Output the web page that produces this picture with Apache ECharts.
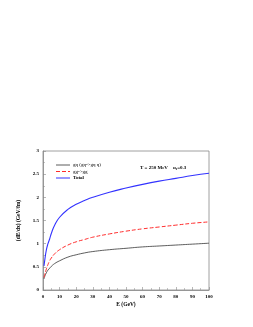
<!DOCTYPE html>
<html><head><meta charset="utf-8">
<script src="https://cdn.jsdelivr.net/npm/echarts@6/dist/echarts.min.js"></script>
<style>html,body{margin:0;padding:0;background:#fff}#c{width:253px;height:327px}</style>
</head><body><div id="c"></div>
<script>
const energies = [0.6, 1, 2, 3, 4, 5, 7, 10, 15, 20, 25, 30, 40, 50, 60, 70, 80, 90, 100];
const gqValues = [0.25, 0.29, 0.37, 0.43, 0.47, 0.51, 0.57, 0.63, 0.71, 0.76, 0.80, 0.83, 0.87, 0.90, 0.93, 0.95, 0.97, 0.99, 1.01];
const ggValues = [0.27, 0.33, 0.45, 0.55, 0.63, 0.69, 0.78, 0.87, 0.97, 1.04, 1.09, 1.14, 1.21, 1.27, 1.32, 1.36, 1.40, 1.44, 1.47];
const totalValues = [0.52, 0.63, 0.86, 1.00, 1.10, 1.22, 1.40, 1.57, 1.74, 1.85, 1.93, 2.00, 2.11, 2.20, 2.28, 2.35, 2.41, 2.47, 2.52];
const seriesNames = ['gq (gq\u0304->gq q\u0304)', 'gg->gg', 'Total'];
const xTicks = [0, 10, 20, 30, 40, 50, 60, 70, 80, 90, 100];
const yTicks = [0, 0.5, 1, 1.5, 2, 2.5, 3];

const colors = ['#333333', '#ff2a2a', '#3333ff'];
const pair = (xs, ys) => xs.map((x, i) => [x, ys[i]]);
const font = 'Liberation Serif';
const chart = echarts.init(document.getElementById('c'));
const axisCommon = {
  axisLine: {show: true, lineStyle: {color: '#888', width: 0.8}},
  axisTick: {show: true, inside: true, length: 3, lineStyle: {color: '#888', width: 0.6}},
  minorTick: {show: true, splitNumber: 2, length: 2, lineStyle: {color: '#888', width: 0.5}},
  splitLine: {show: false},
  axisLabel: {fontFamily: font, fontWeight: 'bold', fontSize: 5, color: '#000', margin: 4}
};
const legendY = [165, 171.5, 178];
const legendGraphics = [];
seriesNames.forEach((n, i) => {
  legendGraphics.push({
    type: 'line', shape: {x1: 56, y1: legendY[i], x2: 70, y2: legendY[i]},
    style: {stroke: colors[i], lineWidth: i === 0 ? 0.8 : 1, lineDash: i === 1 ? [4, 2] : null}
  });
  legendGraphics.push({
    type: 'text', x: 73, y: legendY[i], style: {
      text: n, fill: '#000', verticalAlign: 'middle',
      font: (i === 2 ? 'bold ' : '') + '5px "Liberation Serif"'
    }
  });
});
chart.setOption({
  animation: false,
  grid: {left: 43, right: 44, top: 151, bottom: 37, show: true, borderColor: '#888', borderWidth: 0.8},
  xAxis: Object.assign({}, axisCommon, {
    type: 'value', min: 0, max: 100, interval: 10,
    name: 'E (GeV)', nameLocation: 'middle', nameGap: 12,
    nameTextStyle: {fontFamily: font, fontWeight: 'bold', fontSize: 5.5, color: '#000'},
    axisLabel: Object.assign({}, axisCommon.axisLabel, {formatter: v => xTicks.includes(v) ? String(v) : ''})
  }),
  yAxis: Object.assign({}, axisCommon, {
    type: 'value', min: 0, max: 3, interval: 0.5,
    name: '(dE/dx) (GeV/fm)', nameLocation: 'middle', nameGap: 13, nameRotate: 90,
    nameTextStyle: {fontFamily: font, fontWeight: 'bold', fontSize: 5.5, color: '#000'},
    axisLabel: Object.assign({}, axisCommon.axisLabel, {formatter: v => yTicks.includes(v) ? String(v) : ''})
  }),
  legend: {show: false},
  graphic: legendGraphics.concat([{
    type: 'text', x: 140, y: 168,
    style: {
      text: '{a|T = 250 MeV    \u03b1}{s|s}{a|=0.3}', verticalAlign: 'middle',
      rich: {
        a: {fontFamily: font, fontWeight: 'bold', fontSize: 5, fill: '#000'},
        s: {fontFamily: font, fontWeight: 'bold', fontSize: 3.5, fill: '#000', padding: [3, 0, 0, 0]}
      }
    }
  }]),
  series: seriesNames.map((n, i) => ({
    name: n, type: 'line', smooth: true, showSymbol: false,
    data: pair(energies, [gqValues, ggValues, totalValues][i]),
    lineStyle: {color: colors[i], width: [0.8, 1, 1.1][i], type: i === 1 ? [4, 2] : 'solid'},
    itemStyle: {color: colors[i]}
  }))
});
</script></body></html>
